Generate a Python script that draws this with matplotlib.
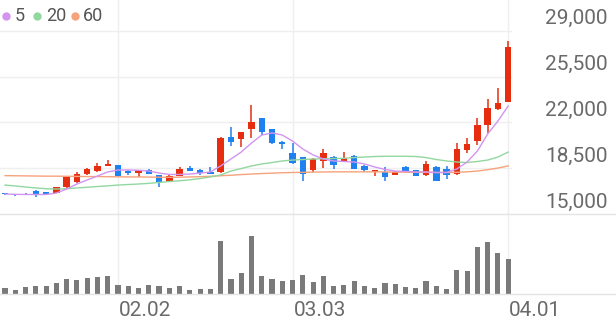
import matplotlib
matplotlib.use("Agg")
import matplotlib.pyplot as plt
from matplotlib.lines import Line2D
from matplotlib.transforms import blended_transform_factory
import numpy as np

plt.rcParams['font.family'] = ['Roboto', 'DejaVu Sans']

# daily candles (KRW)
opens = [16560, 16460, 16500, 16780, 16630, 16630, 17040, 17470, 18030, 18260,
         18670, 18720, 18280, 18110, 18360, 17960, 17540, 17900, 18490, 18360,
         18210, 18210, 20860, 20750, 21470, 22310, 21470, 20520, 19680, 19330,
         18360, 19070, 19380, 19070, 19450, 18640, 18230, 18230, 17980, 18590,
         18340, 17960, 18610, 18440, 18050, 19860, 20540, 21800, 23000, 23580]
highs = [16600, 16480, 16630, 16830, 16680, 17080, 17900, 18210, 18480, 18870,
         19150, 18750, 18360, 18380, 18400, 18000, 17950, 18610, 18670, 18400,
         18610, 20850, 21620, 21300, 23320, 22350, 21500, 20560, 20400, 19360,
         19250, 19940, 19420, 19730, 19500, 18740, 18380, 18570, 18260, 18630,
         18380, 19070, 18650, 18670, 20400, 20780, 22310, 23760, 24600, 28230]
lows = [16470, 16400, 16420, 16300, 16480, 16600, 17000, 17380, 17990, 18220,
        18650, 17880, 17960, 17800, 18020, 17080, 17500, 17880, 18280, 17980,
        18030, 18150, 20190, 20090, 20800, 21050, 20350, 19940, 18850, 17540,
        18230, 18490, 18410, 19030, 18400, 18230, 17900, 17540, 17950, 18200,
        17880, 17930, 17520, 17650, 18000, 19640, 20250, 21160, 22980, 23550]
closes = [16520, 16430, 16430, 16530, 16530, 17040, 17850, 18050, 18410, 18660,
          18820, 17900, 18110, 18360, 18050, 17440, 17900, 18460, 18310, 18110,
          18060, 20830, 20480, 21280, 22000, 21280, 20450, 20350, 18870, 18050,
          19180, 19640, 18740, 19300, 18440, 18380, 18360, 17800, 18230, 18230,
          17900, 18820, 17540, 17980, 19960, 20310, 21830, 23070, 23500, 27730]
# volume, thousand shares
volumes = [116, 84, 136, 156, 156, 216, 310, 284, 316, 336,
           356, 190, 170, 124, 184, 156, 124, 170, 90, 104,
           110, 1070, 304, 424, 1156, 356, 304, 256, 284, 390,
           250, 356, 156, 190, 256, 170, 124, 230, 196, 150,
           124, 270, 156, 104, 490, 456, 936, 1044, 830, 704]

# moving averages as drawn
ma5 = [16530, 16500, 16490, 16490, 16490, 16600, 16910, 17290, 17600, 17900,
       18210, 18360, 18360, 18340, 18280, 18130, 18020, 18020, 18050, 18130,
       18210, 18670, 19200, 19730, 20420, 21030, 21190, 21030, 20570, 19960,
       19510, 19200, 19050, 19010, 18970, 18820, 18590, 18400, 18280, 18250,
       18210, 18210, 18170, 18170, 18440, 18970, 19810, 21110, 22100, 23250]
ma20 = [17210, 17140, 17060, 16990, 16930, 16910, 16930, 16990, 17040, 17100,
        17150, 17210, 17250, 17290, 17340, 17410, 17480, 17540, 17610, 17710,
        17830, 17980, 18280, 18470, 18670, 18820, 18930, 19050, 19120, 19160,
        19200, 19220, 19240, 19250, 19310, 19350, 19390, 19410, 19410, 19410,
        19390, 19310, 19160, 19050, 18970, 18930, 19010, 19120, 19350, 19730]
ma60 = [17930, 17920, 17910, 17900, 17890, 17890, 17880, 17870, 17860, 17860,
        17850, 17840, 17830, 17830, 17820, 17810, 17800, 17810, 17830, 17850,
        17880, 17920, 17960, 18010, 18050, 18090, 18120, 18150, 18170, 18180,
        18200, 18210, 18220, 18220, 18220, 18220, 18220, 18210, 18200, 18190,
        18180, 18180, 18170, 18170, 18180, 18220, 18280, 18380, 18510, 18670]

price_ticks = [15000, 18500, 22000, 25500, 29000]
date_pos = [11, 28, 49]
date_labels = ['02.02', '03.03', '04.01']

ma_names = ['5', '20', '60']
ma_colors = ['#d394f0', '#93d7a0', '#f6a27c']
UP, DOWN = '#e62d10', '#1f80f0'
GRID = '#efefef'
TXT = '#6a6a6a'

W, H = 616, 321
fig = plt.figure(figsize=(W / 100, H / 100), dpi=100)
ax = fig.add_axes([0, (H - 214) / H, 512 / W, 214 / H])
vax = fig.add_axes([0, (H - 294) / H, 512 / W, 80 / H])
for a in (ax, vax):
    a.axis('off')
    a.set_xlim(-0.49, 49.37)
ax.set_ylim(15000, 31342)
vax.set_ylim(0, 1600)

x = np.arange(len(closes))
o, h, l, c = map(np.array, (opens, highs, lows, closes))
cols = [UP if cc >= oo else DOWN for oo, cc in zip(o, c)]

# grid
for t in price_ticks[1:]:
    ax.axhline(t, color=GRID, lw=1, zorder=0)
for p in date_pos:
    ax.axvline(p, color=GRID, lw=1, zorder=0)
    vax.axvline(p, color=GRID, lw=1, zorder=0)

# separators across the full width
for a, yv in ((ax, price_ticks[0]), (vax, 0)):
    tr = blended_transform_factory(fig.transFigure, a.transData)
    fig.add_artist(Line2D([0, 1], [yv, yv], transform=tr, color='#e4e4e4', lw=1))

# candles
ax.vlines(x, l, h, colors=cols, lw=1.1, zorder=2)
body = np.maximum(np.abs(c - o), 120)
ax.bar(x, body, bottom=np.minimum(o, c), width=0.62, color=cols, linewidth=0, zorder=2)

for ma, col in zip((ma60, ma20, ma5), ma_colors[::-1]):
    ax.plot(x, ma, color=col, lw=1.0, zorder=3)

vax.bar(x, volumes, width=0.5, color='#7a7a7a', linewidth=0)

# price labels
for t in price_ticks:
    ax.annotate(f'{t:,}', xy=(1, t), xycoords=ax.get_yaxis_transform(),
                xytext=(96, 6.5), textcoords='offset pixels',
                ha='right', va='baseline', fontsize=15, color=TXT)

# date labels
for p, lbl in zip(date_pos, date_labels):
    vax.annotate(lbl, xy=(p, 0), xycoords=vax.get_xaxis_transform(),
                 xytext=(1, -22.5), textcoords='offset pixels',
                 ha='left', va='baseline', fontsize=15, color=TXT)

# legend
dot_x = [6, 37, 74.5]
txt_x = [15, 46.5, 83]
for name, col, dx, tx in zip(ma_names, ma_colors, dot_x, txt_x):
    fig.add_artist(Line2D([dx / W], [1 - 15.5 / H], marker='o', ms=6, color=col,
                          markeredgewidth=0, linestyle='none'))
    fig.text(tx / W, 1 - 20.7 / H, name, fontsize=13, color='#555555',
             ha='left', va='baseline')

fig.savefig('out.png', dpi=100, facecolor='white')
